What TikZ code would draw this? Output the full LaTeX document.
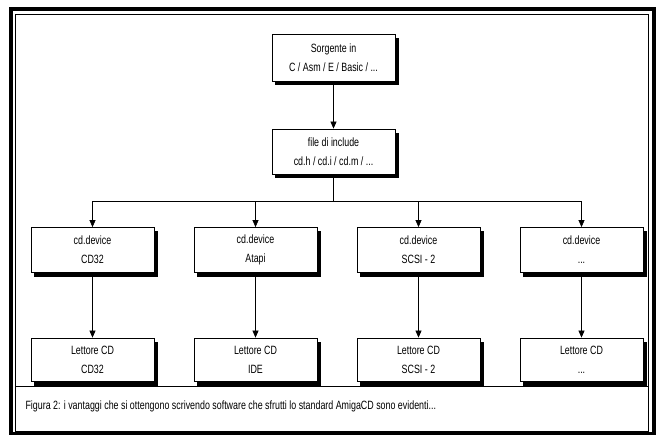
\documentclass[tikz,border=0pt]{standalone}
\usepackage{fontspec}
\setmainfont[FakeStretch=0.74]{Liberation Sans}
\usepackage{tikz}
\usetikzlibrary{arrows.meta,positioning}
\tikzset
{
    cdbox/.style  = {rectangle, draw=black, line width=0.8pt, fill=white, align=center,
                     minimum width=123pt, minimum height=45pt, inner sep=0pt,
                     font=\fontsize{12}{19}\selectfont},
    boxshadow/.style = {fill=black},
    link/.style   = {draw=black, line width=0.7pt},
    arrowlink/.style = {link, -{Triangle[width=6pt,length=7pt]}},
    frame/.style  = {draw=black, line width=4pt},
    inframe/.style = {draw=black, line width=0.8pt}
}

\begin{document}
\begin{tikzpicture}[x=1pt,y=-1pt]
	\useasboundingbox (0,0) rectangle (658,435);
	% page frame and caption strip
	\draw[frame] (11,9) rectangle (654,434);
	\draw[inframe] (15,14) rectangle (648,431);
	\draw[inframe] (15,386) -- (648,386);
	\node[anchor=base west, font=\fontsize{12}{14}\selectfont] (caption) at (22,409)
		{Figura 2: i vantaggi che si ottengono scrivendo software che sfrutti lo standard AmigaCD sono evidenti...};

	% black shadows, drawn first so the boxes sit on them
	\foreach \cx/\cy/\hh in {333.5/57.5/23.5, 333.5/151.5/22.5,
		92.5/250/22.5, 255.5/250/22.5, 418.5/250/22.5, 581.5/250/22.5,
		92.5/359.5/21.5, 255.5/359.5/21.5, 418.5/359.5/21.5, 581.5/359.5/21.5}
		\fill[boxshadow] (\cx-58.5,\cy-\hh+4) rectangle (\cx+65,\cy+\hh+4.5);

	% sources and include files
	\node[cdbox, minimum height=47pt] (src) at (333.5,57.5) {Sorgente in\\C / Asm / E / Basic / ...};
	\node[cdbox] (inc) at (333.5,151.5) {file di include\\cd.h / cd.i / cd.m / ...};
	\coordinate (bus) at (333.5,201.5);

	% devices
	\node[cdbox] (devcd) at (92.5,250) {cd.device\\CD32};
	\node[cdbox] (devatapi) at (255.5,250) {cd.device\\Atapi};
	\node[cdbox] (devscsi) at (418.5,250) {cd.device\\SCSI - 2};
	\node[cdbox] (devother) at (581.5,250) {cd.device\\...};

	% drives
	\node[cdbox, minimum height=43pt] (drvcd) at (92.5,359.5) {Lettore CD\\CD32};
	\node[cdbox, minimum height=43pt] (drvide) at (255.5,359.5) {Lettore CD\\IDE};
	\node[cdbox, minimum height=43pt] (drvscsi) at (418.5,359.5) {Lettore CD\\SCSI - 2};
	\node[cdbox, minimum height=43pt] (drvother) at (581.5,359.5) {Lettore CD\\...};

	\draw[arrowlink] (src) -- (inc);
	\draw[link] (inc) -- (bus);
	\foreach \dev/\drv in {devcd/drvcd, devatapi/drvide, devscsi/drvscsi, devother/drvother}
	{
		\draw[arrowlink] (bus) -| (\dev.north);
		\draw[arrowlink] (\dev) -- (\drv);
	}
\end{tikzpicture}
\end{document}
